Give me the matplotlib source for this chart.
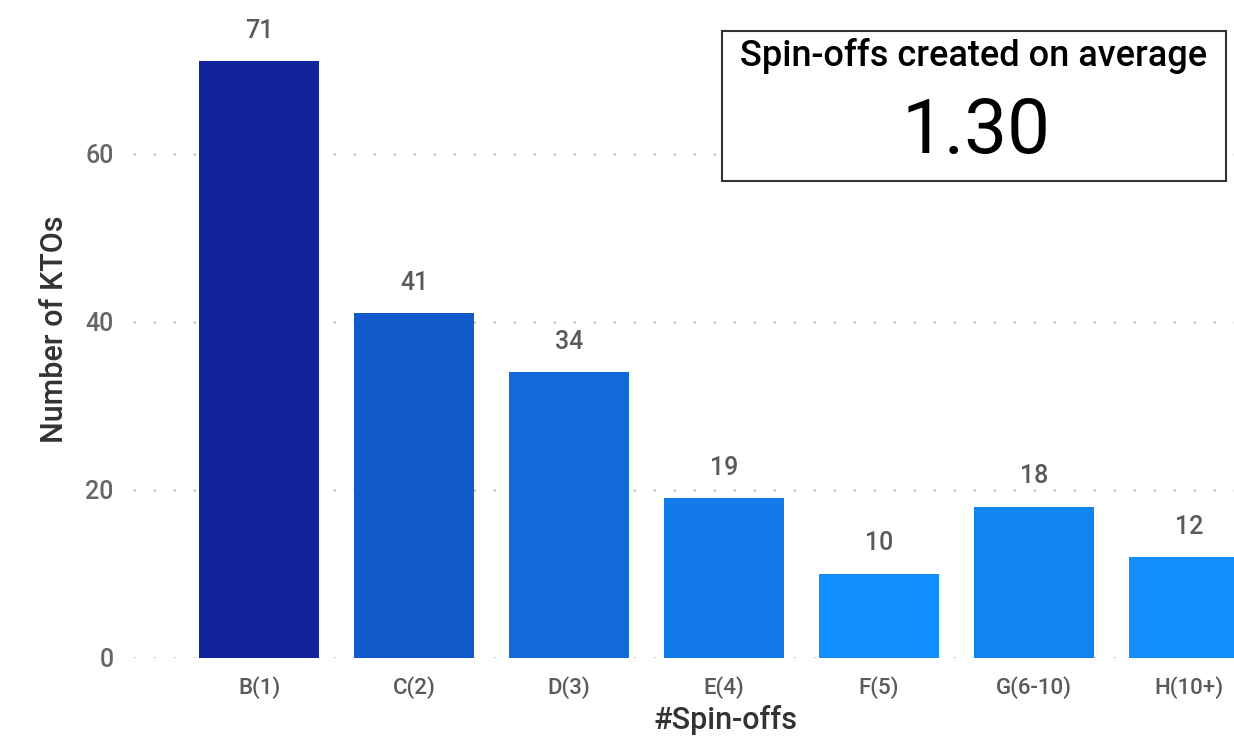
import matplotlib.pyplot as plt
from matplotlib.patches import Rectangle

# Spin-off buckets and number of KTOs in each
categories = ["B(1)", "C(2)", "D(3)", "E(4)", "F(5)", "G(6-10)", "H(10+)"]
ktos = [71, 41, 34, 19, 10, 18, 12]
bar_colors = ["#12239E", "#1259CB", "#1269D9", "#127BE9", "#118FFF", "#1184EF", "#118DFC"]
y_ticks = [0, 20, 40, 60]
avg_label = "Spin-offs created on average"
avg_value = "1.30"

plt.rcParams['font.family'] = ['Roboto', 'DejaVu Sans']

fig = plt.figure(figsize=(12.34, 7.36), dpi=100)
ax = fig.add_axes([0.1078, 0.106, 0.8922, 0.894])

x = list(range(len(categories)))
ax.bar(x, ktos, width=0.775, color=bar_colors, zorder=3)

# value labels above bars
for xi, v in zip(x, ktos):
    ax.text(xi, v + 2.2, str(v), ha='center', va='bottom', fontsize=18,
            fontweight='medium', color='#5a5a5a')

ax.set_xlim(-0.813, 6.29)
ax.set_ylim(0, 78.3)
ax.set_xticks(x)
ax.set_xticklabels(categories, fontsize=16, fontweight='medium', color='#5a5a5a')
ax.set_yticks(y_ticks)
ax.set_yticklabels([str(t) for t in y_ticks], fontsize=18, fontweight='medium', color='#666666')
ax.tick_params(length=0)
ax.tick_params(axis='x', pad=13)
ax.tick_params(axis='y', pad=14)

for t in y_ticks:
    ax.axhline(t, color='#c8c8c8', linewidth=1.8, linestyle=(0, (1, 7)), zorder=1)

for s in ax.spines.values():
    s.set_visible(False)

ax.set_ylabel("Number of KTOs", fontsize=22, fontweight='medium', color='#333333', labelpad=12)
ax.set_xlabel("#Spin-offs", fontsize=22, fontweight='medium', color='#333333')
ax.xaxis.set_label_coords(0.538, -0.094)
ax.xaxis.label.set_va('center')

# KPI card in the top right corner
fig.patches.append(Rectangle((722 / 1234, 1 - 181 / 736), 504 / 1234, 150 / 736,
                             transform=fig.transFigure, facecolor='white',
                             edgecolor='#333333', linewidth=1.5, zorder=5))
fig.text(974 / 1234, 1 - 56 / 736, avg_label, ha='center', va='center',
         fontsize=26, fontweight='medium', color='black', zorder=6)
fig.text(976 / 1234, 1 - 133 / 736, avg_value, ha='center', va='center',
         fontsize=55, fontweight='normal', color='black', zorder=6)

fig.savefig("out.png", dpi=100)
